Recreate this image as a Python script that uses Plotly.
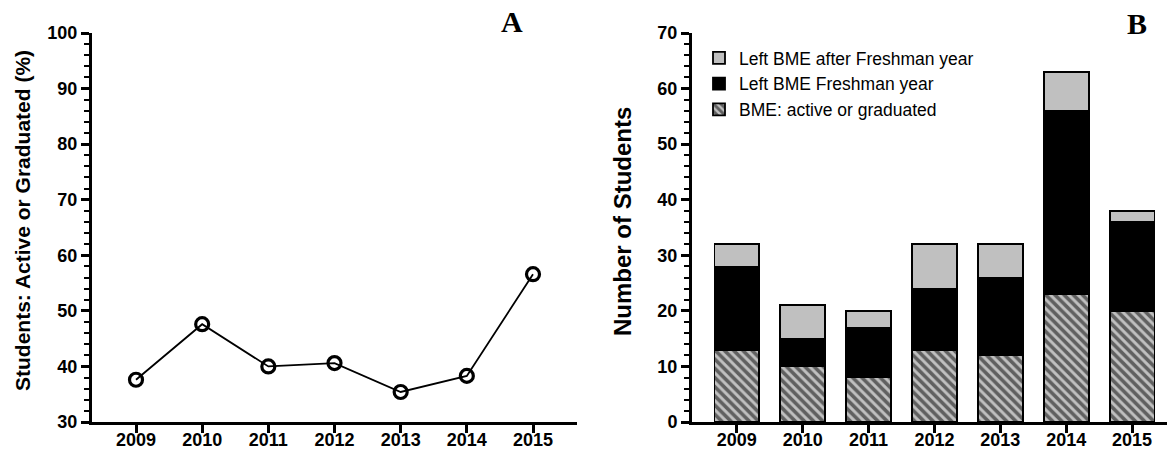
import plotly.graph_objects as go

years = ["2009", "2010", "2011", "2012", "2013", "2014", "2015"]
pct_active = [37.6, 47.6, 40.0, 40.6, 35.4, 38.3, 56.6]
bme_active = [13, 10, 8, 13, 12, 23, 20]
left_freshman = [15, 5, 9, 11, 14, 33, 16]
left_after = [4, 6, 3, 8, 6, 7, 2]

W, H = 1169, 452
FONT = "Liberation Sans"
GRAY = "#c0c0c0"

fig = go.Figure()

fig.add_trace(go.Scatter(
    x=years, y=pct_active, mode="lines+markers",
    line=dict(color="black", width=1.8),
    marker=dict(symbol="circle-open", size=13, color="black", line=dict(width=3.2)),
    showlegend=False, xaxis="x", yaxis="y"))

bar_line = dict(color="black", width=1.8)
fig.add_trace(go.Bar(
    x=years, y=bme_active, name="BME: active or graduated", width=0.68,
    marker=dict(color=GRAY, line=bar_line,
                pattern=dict(shape="\\", fgcolor="black", bgcolor=GRAY,
                             size=6.5, solidity=0.55, fillmode="overlay")),
    xaxis="x2", yaxis="y2"))
fig.add_trace(go.Bar(
    x=years, y=left_freshman, name="Left BME Freshman year", width=0.68,
    marker=dict(color="black", line=bar_line),
    xaxis="x2", yaxis="y2"))
fig.add_trace(go.Bar(
    x=years, y=left_after, name="Left BME after Freshman year", width=0.68,
    marker=dict(color=GRAY, line=bar_line),
    xaxis="x2", yaxis="y2"))

tickfont = dict(family=FONT, size=18, color="black", weight="bold")
ydom = [(H - 422) / H, (H - 33) / H]

common_x = dict(type="category", showline=True, linewidth=3, linecolor="black",
                ticks="outside", ticklen=8, tickwidth=2.5, tickcolor="black",
                tickfont=tickfont, showgrid=False, zeroline=False,
                ticklabelstandoff=-9, automargin=False, fixedrange=True)
common_y = dict(showline=True, linewidth=3, linecolor="black",
                ticks="outside", ticklen=8, tickwidth=2.5, tickcolor="black",
                tickfont=tickfont, showgrid=False, zeroline=False, dtick=10,
                automargin=False, fixedrange=True,
                minor=dict(dtick=2, ticks="outside", ticklen=5, tickwidth=2,
                           tickcolor="black", showgrid=False))

ann_common = dict(xref="paper", yref="paper", showarrow=False,
                  xanchor="center", yanchor="middle")

fig.update_layout(
    template="none",
    width=W, height=H,
    margin=dict(l=0, r=0, t=0, b=0, pad=0),
    paper_bgcolor="white", plot_bgcolor="white",
    barmode="stack",
    xaxis=dict(domain=[92 / W, 577 / W], range=[-0.665, 6.665], anchor="y", **common_x),
    yaxis=dict(domain=ydom, range=[30, 100], anchor="x", **common_y),
    xaxis2=dict(domain=[692 / W, 1167 / W], range=[-0.68, 6.53], anchor="y2", **common_x),
    yaxis2=dict(domain=ydom, range=[0, 70], anchor="x2", **common_y),
    legend=dict(x=699 / W, y=(H - 40) / H, xanchor="left", yanchor="top",
                traceorder="reversed", bgcolor="rgba(0,0,0,0)",
                font=dict(family=FONT, size=17.5, color="black"),
                tracegroupgap=0, itemwidth=30),
    annotations=[
        dict(text="Students: Active or Graduated (%)", x=22 / W, y=(H - 221) / H,
             textangle=-90,
             font=dict(family=FONT, size=21, color="black", weight="bold"), **ann_common),
        dict(text="Number of Students", x=622 / W, y=(H - 222) / H,
             textangle=-90,
             font=dict(family=FONT, size=24, color="black", weight="bold"), **ann_common),
        dict(text="A", x=512 / W, y=(H - 21) / H,
             font=dict(family="Liberation Serif", size=30, color="black", weight="bold"),
             **ann_common),
        dict(text="B", x=1137 / W, y=(H - 24) / H,
             font=dict(family="Liberation Serif", size=30, color="black", weight="bold"),
             **ann_common),
    ],
)

fig.write_html("out.html", config={"displayModeBar": False},
               post_script="document.body.style.margin='0';")
